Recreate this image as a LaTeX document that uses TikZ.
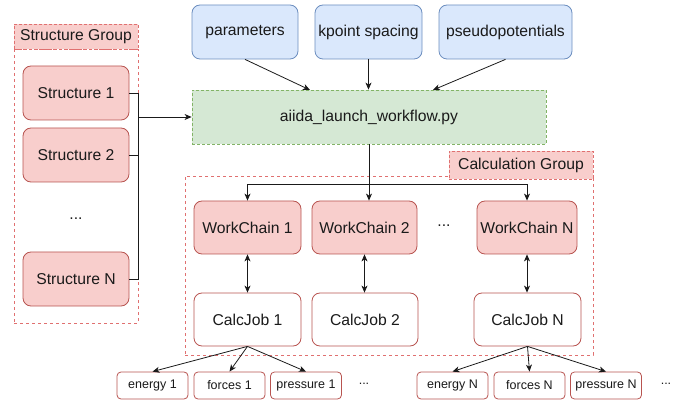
\documentclass[tikz,border=0pt]{standalone}
\usepackage{fontspec}
\setmainfont{Liberation Sans}
\usetikzlibrary{arrows.meta,calc}
\definecolor{rfill}{HTML}{F8CECC}
\definecolor{rdraw}{HTML}{B85450}
\definecolor{rdash}{HTML}{E07070}
\definecolor{bfill}{HTML}{DAE8FC}
\definecolor{bdraw}{HTML}{6C8EBF}
\definecolor{gfill}{HTML}{D5E8D4}
\definecolor{gdraw}{HTML}{82B366}
\definecolor{ink}{HTML}{1A1A1A}
\tikzset{
  base/.style={inner sep=0pt, line width=0.8pt, font=\fontsize{15.7}{18}\selectfont, text=ink},
  redbox/.style={base, draw=rdraw, fill=rfill, rounded corners=8pt},
  whitebox/.style={base, draw=rdraw, fill=white, rounded corners=8pt},
  bluebox/.style={base, draw=bdraw, fill=bfill, rounded corners=8pt},
  greenbox/.style={base, draw=gdraw, fill=gfill, dash pattern=on 3pt off 2pt},
  outbox/.style={base, draw=rdraw, fill=white, rounded corners=4pt, minimum width=71pt, minimum height=27pt, font=\fontsize{12.5}{14}\selectfont},
  grouplabel/.style={base, draw=rdash, fill=rfill, dash pattern=on 3pt off 2pt},
  groupframe/.style={inner sep=0pt, draw=rdash, line width=0.8pt, dash pattern=on 3pt off 3pt},
  dots/.style={base},
  conn/.style={draw=ink, line width=0.8pt},
  arr/.style={conn, -{Stealth[length=7pt,width=6pt,inset=2pt]}},
  darr/.style={conn, {Stealth[length=7pt,width=6pt,inset=2pt]}-{Stealth[length=7pt,width=6pt,inset=2pt]}},
}
\begin{document}
\begin{tikzpicture}[x=1pt,y=-1pt]
\useasboundingbox (0,0) rectangle (677,403);
% groups
\node[groupframe, minimum width=124pt, minimum height=274pt] (sgroup) at (76,186) {};
\node[grouplabel, minimum width=124pt, minimum height=25pt] (slabel) at (76,36.5) {Structure Group};
\node[groupframe, minimum width=408pt, minimum height=179pt] (cgroup) at (389,265.5) {};
\node[grouplabel, minimum width=144pt, minimum height=28pt] (clabel) at (521,165) {Calculation Group};
% structures
\node[redbox, minimum width=106pt, minimum height=54pt] (s1) at (76,93) {Structure 1};
\node[redbox, minimum width=106pt, minimum height=54pt] (s2) at (76,155) {Structure 2};
\node[dots] (sd) at (76,219) {...};
\node[redbox, minimum width=106pt, minimum height=54pt] (sN) at (76,279) {Structure N};
% inputs
\node[bluebox, minimum width=106pt, minimum height=54pt] (par) at (245,32) {parameters};
\node[bluebox, minimum width=107pt, minimum height=54pt] (kp) at (368.5,32) {kpoint spacing};
\node[bluebox, minimum width=133pt, minimum height=54pt] (pp) at (505.5,32) {pseudopotentials};
% launcher
\node[greenbox, minimum width=354pt, minimum height=54pt] (gl) at (369,117) {aiida\_launch\_workflow.py};
% workchains
\node[redbox, minimum width=107pt, minimum height=53pt] (wc1) at (247.5,227.5) {WorkChain 1};
\node[redbox, minimum width=105pt, minimum height=53pt] (wc2) at (364.5,227.5) {WorkChain 2};
\node[dots] (wd) at (444,226) {...};
\node[redbox, minimum width=100pt, minimum height=53pt] (wcN) at (527,227.5) {WorkChain N};
% calcjobs
\node[whitebox, minimum width=107pt, minimum height=53pt] (cj1) at (247.5,319.5) {CalcJob 1};
\node[whitebox, minimum width=106pt, minimum height=53pt] (cj2) at (365,319.5) {CalcJob 2};
\node[whitebox, minimum width=107pt, minimum height=53pt] (cjN) at (527.5,319.5) {CalcJob N};
% outputs
\node[outbox] (e1) at (152.5,385.5) {energy 1};
\node[outbox] (f1) at (229.5,385.5) {forces 1};
\node[outbox] (p1) at (306,385.5) {pressure 1};
\node[dots, font=\fontsize{12.5}{14}\selectfont] (od1) at (364,384) {...};
\node[outbox] (eN) at (452.5,385.5) {energy N};
\node[outbox] (fN) at (529.5,385.5) {forces N};
\node[outbox] (pN) at (606,385.5) {pressure N};
\node[dots, font=\fontsize{12.5}{14}\selectfont] (odN) at (666,384) {...};
% structure bus
\coordinate (bus) at (138,117);
\draw[conn] (s1.east) -- ++(9,0) |- (sN.east);
\draw[conn] (s2.east) -- ++(9,0);
\draw[arr] (bus) -- (gl.west);
% inputs to launcher
\coordinate (g1) at (310,90);
\coordinate (g3) at (433,90);
\draw[arr] (par.south) -- (g1);
\draw[arr] (kp.south) -- (kp.south |- gl.north);
\draw[arr] (pp.south) -- (g3);
% launcher to workchains
\coordinate (wbus) at (369,184);
\draw[arr] (gl.south) -- (wc2.north -| gl.south);
\draw[arr] (wbus) -| (wc1.north);
\draw[arr] (wbus) -| (wcN.north);
% workchain <-> calcjob
\draw[darr] (wc1.south) -- (cj1.north);
\draw[darr] (wc2.south) -- (cj2.north -| wc2.south);
\draw[darr] (wcN.south) -- (cjN.north -| wcN.south);
% outputs
\draw[arr] (cj1.south) -- (e1.north);
\draw[arr] (cj1.south) -- (f1.north);
\draw[arr] (cj1.south) -- (p1.north);
\draw[arr] (cjN.south) -- (eN.north);
\draw[arr] (cjN.south) -- (fN.north);
\draw[arr] (cjN.south) -- (pN.north);
\end{tikzpicture}
\end{document}
